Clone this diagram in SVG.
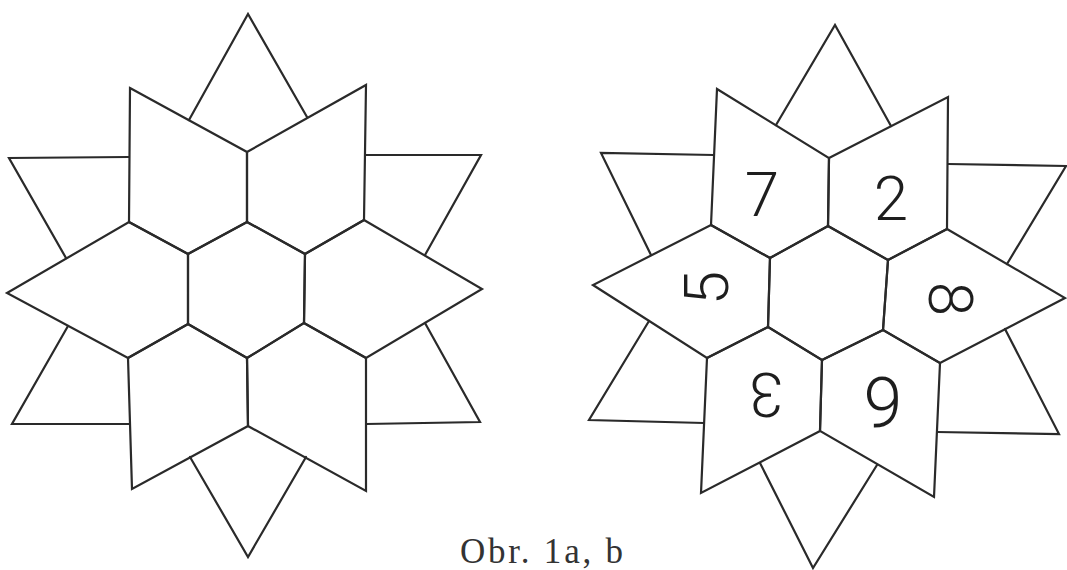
<svg xmlns="http://www.w3.org/2000/svg" width="1067" height="570" viewBox="0 0 1067 570">
<style>
.p{fill:none;stroke:#2a2a2a;stroke-width:2.2;stroke-linejoin:miter;stroke-linecap:round}
.d{font-family:Roboto,"DejaVu Sans",sans-serif;font-weight:300;font-size:62px;fill:#1e1e1e;text-anchor:middle}
.cap{font-family:"Liberation Serif","DejaVu Serif",serif;font-size:35px;fill:#333}
</style>
<rect width="1067" height="570" fill="#ffffff"/>
<g id="figure-a">
  <g id="a-tri-top"><polyline class="p" points="189,120 248,14 307,117"/></g>
  <g id="a-tri-ul"><polyline class="p" points="129,157 9,158 66,258"/></g>
  <g id="a-tri-ur"><polyline class="p" points="365,155 481,155 425,255"/></g>
  <g id="a-tri-ll"><polyline class="p" points="68,326 12,424 129,424"/></g>
  <g id="a-tri-lr"><polyline class="p" points="425,323 480,422 366,424"/></g>
  <g id="a-tri-bottom"><polyline class="p" points="190,457 248,557 306,457"/></g>
  <g id="a-piece-ul"><polygon class="p" points="130,88 247,152 247,222 188,254 129,222"/></g>
  <g id="a-piece-ur"><polygon class="p" points="247,152 366,85 364,220 305,254 247,222"/></g>
  <g id="a-piece-l"><polygon class="p" points="129,222 188,254 188,324 128,358 7,293"/></g>
  <g id="a-piece-r"><polygon class="p" points="364,220 482,289 366,358 304,323 305,254"/></g>
  <g id="a-piece-ll"><polygon class="p" points="188,324 247,358 248,426 132,489 128,358"/></g>
  <g id="a-piece-lr"><polygon class="p" points="247,358 304,323 366,358 366,491 248,426"/></g>
  <g id="a-hex"><polygon class="p" points="247,222 305,254 304,323 247,358 188,324 188,254"/></g>
</g>
<g id="figure-b">
  <g id="b-tri-top"><polyline class="p" points="776,125 835,25 891,126"/></g>
  <g id="b-tri-ul"><polyline class="p" points="714,155 601,153 651,255"/></g>
  <g id="b-tri-ur"><polyline class="p" points="948,164 1066,166 1007,264"/></g>
  <g id="b-tri-ll"><polyline class="p" points="649,321 589,420 704,423"/></g>
  <g id="b-tri-lr"><polyline class="p" points="1005,329 1059,434 937,432"/></g>
  <g id="b-tri-bottom"><polyline class="p" points="760,463 813,568 877,465"/></g>
  <g id="b-piece-ul"><polygon class="p" points="717,89 829,158 828,226 770,258 711,225"/></g>
  <g id="b-piece-ur"><polygon class="p" points="829,158 948,97 947,229 888,260 828,226"/></g>
  <g id="b-piece-l"><polygon class="p" points="711,225 770,258 768,327 707,358 593,285"/></g>
  <g id="b-piece-r"><polygon class="p" points="947,229 1065,298 940,363 883,330 888,260"/></g>
  <g id="b-piece-ll"><polygon class="p" points="768,327 822,360 820,431 701,493 707,358"/></g>
  <g id="b-piece-lr"><polygon class="p" points="822,360 883,330 940,363 934,497 820,431"/></g>
  <g id="b-hex"><polygon class="p" points="828,226 888,260 883,330 822,360 768,327 770,258"/></g>
  <g id="b-labels">
    <text class="d" transform="translate(762,194)" x="0" y="22">7</text>
    <text class="d" transform="translate(891,198)" x="0" y="22">2</text>
    <text class="d" transform="translate(706,288) rotate(-90)" x="0" y="22">5</text>
    <text class="d" transform="translate(951,299) rotate(90)" x="0" y="22">8</text>
    <text class="d" transform="translate(766,395) rotate(180)" x="0" y="22">3</text>
    <text class="d" transform="translate(883,403)" x="0" y="24" style="font-size:70px">9</text>
  </g>
</g>
<text class="cap" x="460" y="563" textLength="163" lengthAdjust="spacing">Obr. 1a, b</text>
</svg>
